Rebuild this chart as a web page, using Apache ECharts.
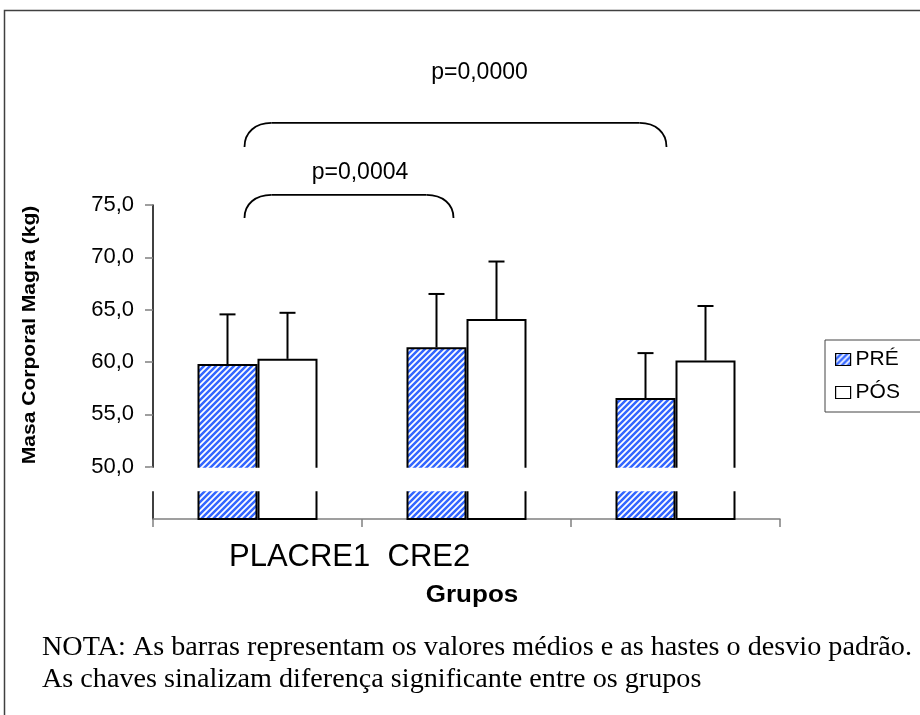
<!DOCTYPE html>
<html><head><meta charset="utf-8">
<script src="https://cdn.jsdelivr.net/npm/echarts@6/dist/echarts.min.js"></script>
<style>html,body{margin:0;padding:0;background:#fff}#c{width:920px;height:715px}</style>
</head><body><div id="c"></div>
<script>
// ---- data ----
const categories = ['PLA', 'CRE1', 'CRE2'];
const seriesNames = ['PRÉ', 'PÓS'];
const preMean = [59.8, 61.4, 56.55];
const preSD = [4.75, 5.1, 4.3];
const posMean = [60.3, 64.1, 60.15];
const posSD = [4.4, 5.5, 5.2];
const yTicks = [50, 55, 60, 65, 70, 75];
const yMin = 45, yMax = 75, yStep = 5;
const breakRange = [47.65, 50];
// [fromCategory, toCategory, bracketTopValue, bracketEndValue, labelValue]
const brackets = [
  [0, 2, 82.84, 80.55, 87.6],
  [0, 1, 75.96, 73.76, 78.06]
];
const pLabels = ['p=0,0000', 'p=0,0004'];
const yTitle = 'Masa Corporal Magra (kg)';
const xTitle = 'Grupos';
const noteLines = [
  'NOTA: As barras representam os valores médios e as hastes o desvio padrão.',
  'As chaves sinalizam diferença significante entre os grupos'
];

// ---- styles ----
const bracketInset = [[-13, -9], [-13, -13]];
const labelShift = [13, -2];

function stripes() {
  const c = document.createElement('canvas');
  c.width = 6; c.height = 6;
  const g = c.getContext('2d');
  g.fillStyle = '#ffffff'; g.fillRect(0, 0, 6, 6);
  g.strokeStyle = '#3366ff'; g.lineWidth = 2.5;
  g.beginPath();
  g.moveTo(-1, 7); g.lineTo(7, -1);
  g.moveTo(-1, 1); g.lineTo(1, -1);
  g.moveTo(5, 7); g.lineTo(7, 5);
  g.stroke();
  return c;
}
const pat = { image: stripes(), repeat: 'repeat' };

function measure(text, font) {
  const ctx = document.createElement('canvas').getContext('2d');
  ctx.font = font;
  return ctx.measureText(text).width;
}
const noteFont = '27px "Liberation Serif"';
const noteScale = 870 / measure(noteLines[0], noteFont);

function errSeries(means, sds, dx) {
  return {
    type: 'custom', z: 5, clip: false, silent: true,
    data: means.map((m, i) => [i, m, m + sds[i]]),
    encode: { x: 0, y: [1, 2] },
    renderItem(params, api) {
      const p0 = api.coord([api.value(0), api.value(1)]);
      const p1 = api.coord([api.value(0), api.value(2)]);
      const x = p0[0] + dx;
      return { type: 'group', children: [
        { type: 'line', shape: { x1: x, y1: p0[1], x2: x, y2: p1[1] }, style: { stroke: '#000', lineWidth: 2 } },
        { type: 'line', shape: { x1: x - 8, y1: p1[1], x2: x + 8, y2: p1[1] }, style: { stroke: '#000', lineWidth: 2 } }
      ] };
    }
  };
}

const chart = echarts.init(document.getElementById('c'), null, { renderer: 'canvas' });
chart.setOption({
  backgroundColor: '#fff',
  animation: false,
  grid: { left: 153, right: 140, top: 205, bottom: 196 },
  legend: {
    data: seriesNames, orient: 'vertical', left: 825, top: 340,
    itemWidth: 15, itemHeight: 12, itemGap: 12, padding: [9, 40, 9, 10],
    borderColor: '#444', borderWidth: 1, icon: 'rect',
    itemStyle: { borderWidth: 1.2 },
    textStyle: { fontFamily: 'Liberation Sans', fontSize: 21, color: '#000' }
  },
  xAxis: {
    type: 'category', data: categories,
    axisLine: { lineStyle: { color: '#808080', width: 1.5 } },
    axisTick: { show: true, length: 8, lineStyle: { color: '#808080', width: 1.5 } },
    axisLabel: { show: false }
  },
  yAxis: {
    type: 'value', min: yMin, max: yMax, interval: yStep,
    splitLine: { show: false },
    axisLine: { show: true, lineStyle: { color: '#000', width: 1.5 } },
    axisTick: { show: true, length: 8, customValues: yTicks, lineStyle: { color: '#808080', width: 1.5 } },
    axisLabel: {
      customValues: yTicks, margin: 19,
      fontFamily: 'Liberation Sans', fontSize: 22, color: '#000',
      formatter: v => v.toFixed(1).replace('.', ',')
    }
  },
  series: [
    { name: seriesNames[0], type: 'bar', data: preMean, barWidth: 60, barGap: '0%',
      itemStyle: { color: pat, borderColor: '#000', borderWidth: 2 } },
    { name: seriesNames[1], type: 'bar', data: posMean, barWidth: 60, barGap: '0%',
      itemStyle: { color: '#fff', borderColor: '#000', borderWidth: 2 } },
    errSeries(preMean, preSD, -30),
    errSeries(posMean, posSD, 30),
    {
      type: 'custom', z: 10, clip: false, silent: true,
      data: [[0, breakRange[0], breakRange[1]]],
      encode: { x: 0, y: [1, 2] },
      renderItem(params, api) {
        const top = api.coord([0, api.value(2)])[1] + 1;
        const bot = api.coord([0, api.value(1)])[1];
        const cs = params.coordSys;
        return { type: 'rect', shape: { x: cs.x - 3, y: top, width: cs.width + 6, height: bot - top }, style: { fill: '#fff' } };
      }
    },
    {
      type: 'custom', z: 6, clip: false, silent: true,
      data: brackets,
      encode: { x: [0, 1], y: [2, 3, 4] },
      renderItem(params, api) {
        const i = params.dataIndex;
        const a = api.coord([api.value(0), api.value(2)]);
        const b = api.coord([api.value(1), api.value(2)]);
        const yTop = a[1];
        const yEnd = api.coord([api.value(0), api.value(3)])[1];
        const yLab = api.coord([api.value(0), api.value(4)])[1];
        const x1 = a[0] + bracketInset[i][0];
        const x2 = b[0] + bracketInset[i][1];
        const rx = 27, h = yEnd - yTop;
        const st = { stroke: '#000', lineWidth: 1.8, fill: null };
        return { type: 'group', children: [
          { type: 'bezierCurve', shape: { x1: x1, y1: yEnd, cpx1: x1, cpy1: yTop + h * 0.4, cpx2: x1 + rx * 0.4, cpy2: yTop, x2: x1 + rx, y2: yTop }, style: st },
          { type: 'line', shape: { x1: x1 + rx, y1: yTop, x2: x2 - rx, y2: yTop }, style: st },
          { type: 'bezierCurve', shape: { x1: x2 - rx, y1: yTop, cpx1: x2 - rx * 0.4, cpy1: yTop, cpx2: x2, cpy2: yTop + h * 0.4, x2: x2, y2: yEnd }, style: st },
          { type: 'text', x: (a[0] + b[0]) / 2 + labelShift[i], y: yLab,
            style: { text: pLabels[i], fill: '#000', font: '23px "Liberation Sans"', align: 'center', verticalAlign: 'middle' } }
        ] };
      }
    }
  ],
  graphic: [
    { type: 'rect', shape: { x: 4.5, y: 10.5, width: 1000, height: 1000 }, style: { fill: null, stroke: '#404040', lineWidth: 1.5 }, silent: true },
    { type: 'text', x: 30, y: 335, rotation: Math.PI / 2, scaleX: 1.17,
      style: { text: yTitle, fill: '#000', font: 'bold 18px "Liberation Sans"', align: 'center', verticalAlign: 'middle' } },
    { type: 'text', x: 229, y: 557,
      style: { text: categories[0] + categories[1] + '  ' + categories[2], fill: '#000', font: '31px "Liberation Sans"', align: 'left', verticalAlign: 'middle' } },
    { type: 'text', x: 472, y: 596, scaleX: 1.13,
      style: { text: xTitle, fill: '#000', font: 'bold 23px "Liberation Sans"', align: 'center', verticalAlign: 'middle' } },
    { type: 'text', x: 42, y: 648, scaleX: noteScale,
      style: { text: noteLines[0], fill: '#000', font: noteFont, align: 'left', verticalAlign: 'middle' } },
    { type: 'text', x: 42, y: 680, scaleX: noteScale,
      style: { text: noteLines[1], fill: '#000', font: noteFont, align: 'left', verticalAlign: 'middle' } }
  ]
});
</script></body></html>
